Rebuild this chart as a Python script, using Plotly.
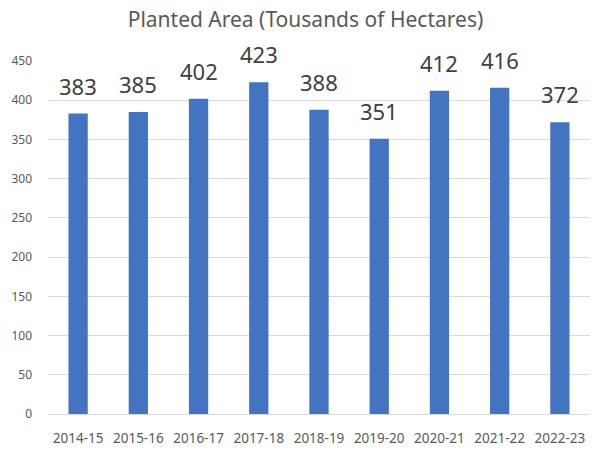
import plotly.graph_objects as go

seasons = ["2014-15", "2015-16", "2016-17", "2017-18", "2018-19",
           "2019-20", "2020-21", "2021-22", "2022-23"]
planted_area = [383, 385, 402, 423, 388, 351, 412, 416, 372]
y_ticks = [0, 50, 100, 150, 200, 250, 300, 350, 400, 450]

fig = go.Figure(go.Bar(
    x=seasons, y=planted_area,
    marker=dict(color="#4274C1", line=dict(width=0)),
    cliponaxis=False,
    hoverinfo="x+y",
))

for s, v in zip(seasons, planted_area):
    fig.add_annotation(x=s, y=v, xref="x", yref="y", text=str(v),
                       showarrow=False, yanchor="bottom", xanchor="center",
                       yshift=11,
                       font=dict(size=22, color="#404040", family="Noto Sans"))

fig.update_layout(
    width=592, height=450,
    margin=dict(l=48, r=2, t=61, b=36, autoexpand=False),
    paper_bgcolor="white", plot_bgcolor="white",
    title=dict(text="Planted Area (Tousands of Hectares)", x=0.516, xanchor="center",
               y=0.956, yanchor="middle",
               font=dict(size=21, color="#595959", family="Noto Sans")),
    bargap=0.68,
    showlegend=False,
    font=dict(family="Noto Sans", color="#595959"),
)
fig.update_xaxes(tickfont=dict(size=13.5, color="#595959"), showline=False,
                 ticks="", showgrid=False, automargin=False,
                 ticklabelstandoff=14)
fig.update_yaxes(range=[0, 450], tickvals=y_ticks, showgrid=True,
                 gridcolor="#D9D9D9", gridwidth=1, zeroline=True,
                 zerolinecolor="#D9D9D9", zerolinewidth=1,
                 tickfont=dict(size=12, color="#595959"), ticks="",
                 ticklabelstandoff=15, automargin=False)

fig.write_html("out.html", config={"displayModeBar": False},
               post_script="document.body.style.margin='0';")
